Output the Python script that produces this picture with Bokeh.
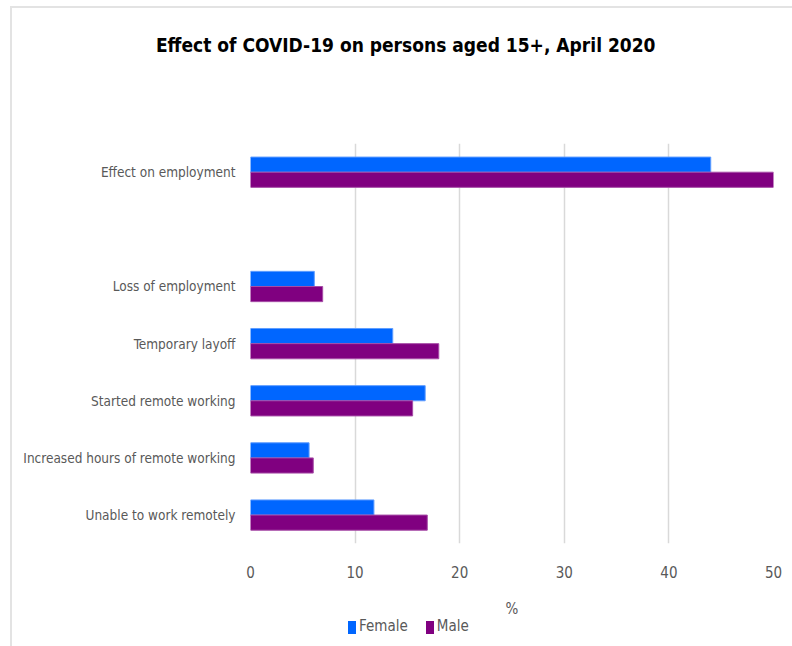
from bokeh.plotting import figure
from bokeh.models import FactorRange, ColumnDataSource, Title, Div
from bokeh.layouts import column
from bokeh.transform import dodge
from bokeh.embed import file_html
from bokeh.resources import INLINE

# ---- data ----
categories = [
    "Effect on employment",
    "Loss of employment",
    "Temporary layoff",
    "Started remote working",
    "Increased hours of remote working",
    "Unable to work remotely",
]
female = [44.0, 6.1, 13.6, 16.7, 5.6, 11.8]
male = [50.0, 6.9, 18.0, 15.5, 6.0, 16.9]
series_names = ["Female", "Male"]
series_colors = ["#0066ff", "#800080"]
x_ticks = [0, 10, 20, 30, 40, 50]
title_text = "Effect of COVID-19 on persons aged 15+, April 2020"

# factor order (top to bottom) with an empty slot after the first category
factors_top_down = [categories[0], " "] + categories[1:]
factors = list(reversed(factors_top_down))

FONT = "DejaVu Sans Condensed, Liberation Sans"
TXT = "#595959"

src = ColumnDataSource(dict(cat=categories, female=female, male=male))

p = figure(
    width=776, height=612,
    y_range=FactorRange(factors=factors),
    x_range=(0, 50),
    output_backend="svg", toolbar_location=None,
    min_border_left=238, min_border_right=15,
    min_border_top=135, min_border_bottom=70,
)

bw = 0.265
p.hbar(y=dodge("cat", 0.13, range=p.y_range), left=0, right="female", height=bw,
       source=src, fill_color=series_colors[0], line_color="#5f9dff", line_width=1)
p.hbar(y=dodge("cat", -0.135, range=p.y_range), left=0, right="male", height=bw,
       source=src, fill_color=series_colors[1], line_color="#a64ca6", line_width=1)

p.outline_line_color = None
p.background_fill_color = "white"
p.border_fill_color = "white"

# grid
p.ygrid.grid_line_color = None
p.xgrid.grid_line_color = "#d9d9d9"
p.xgrid.grid_line_width = 1.5
p.xgrid.ticker = x_ticks

# x axis
p.xaxis.ticker = x_ticks
p.xaxis.axis_line_color = None
p.xaxis.major_tick_line_color = None
p.xaxis.minor_tick_line_color = None
p.xaxis.major_label_standoff = 16
p.xaxis.major_label_text_font = FONT
p.xaxis.major_label_text_font_size = "15px"
p.xaxis.major_label_text_color = TXT
p.xaxis.axis_label = "%"
p.xaxis.axis_label_text_font = FONT
p.xaxis.axis_label_text_font_size = "15px"
p.xaxis.axis_label_text_font_style = "normal"
p.xaxis.axis_label_text_color = TXT
p.xaxis.axis_label_standoff = 19

# y axis
p.yaxis.axis_line_color = None
p.yaxis.major_tick_line_color = None
p.yaxis.minor_tick_line_color = None
p.yaxis.major_label_standoff = 9
p.yaxis.major_label_text_font = FONT
p.yaxis.major_label_text_font_size = "13.5px"
p.yaxis.major_label_text_color = TXT

# title
p.title.text = title_text
p.title.align = "right"
p.title.offset = 118
p.title.text_font = FONT
p.title.text_font_size = "19px"
p.title.text_font_style = "bold"
p.title.text_color = "black"
spacer = Title(text=" ", text_font_size="10px", standoff=70)
p.add_layout(spacer, "above")

# legend (below the plot)
def _item(name, color, gap):
    return (f'<span style="display:inline-flex;align-items:center;margin-right:{gap}px;">'
            f'<span style="display:inline-block;width:8px;height:13px;background:{color};'
            f'margin-right:3px;"></span>{name}</span>')

legend_html = (
    '<div style="display:flex;align-items:center;height:20px;padding-left:331px;'
    'position:relative;top:-8px;'
    "font-family:'DejaVu Sans Condensed','Liberation Sans',sans-serif;"
    f'font-size:15px;color:{TXT};white-space:nowrap;">'
    + _item(series_names[0], series_colors[0], 18)
    + _item(series_names[1], series_colors[1], 0)
    + '</div>'
)
legend_div = Div(text=legend_html, width=776, height=20)

layout = column(p, legend_div, spacing=0)
layout.styles = {"margin-left": "10px", "margin-top": "6px",
                 "border-top": "2px solid #e3e3e3", "border-left": "2px solid #e3e3e3",
                 "background-color": "white"}

open("out.html", "w").write(file_html(layout, INLINE))
